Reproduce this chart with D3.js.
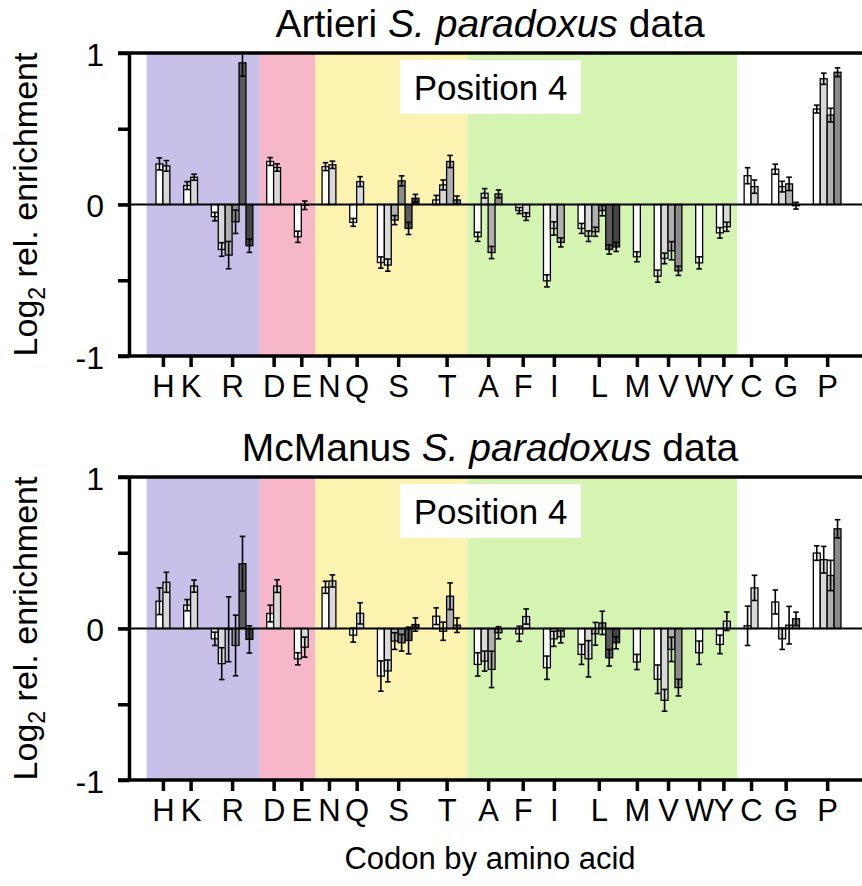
<!DOCTYPE html>
<html>
<head>
<meta charset="utf-8">
<script src="https://cdn.jsdelivr.net/npm/d3@7"></script>
<style>
  body { margin: 0; background: #fff; }
  svg { display: block; font-family: "Liberation Sans", Arial, Helvetica, sans-serif; }
</style>
</head>
<body>
<svg id="chart" width="862" height="886"></svg>
<script>
// Amino acids along the x axis, one group of codon bars each
const aminoAcids = ['H','K','R','D','E','N','Q','S','T','A','F','I','L','M','V','W','Y','C','G','P'];

// Physico-chemical classes shaded behind the bars (first and last amino acid of each block)
const propertyBlocks = [['H','R'], ['D','E'], ['N','T'], ['A','Y']];

// Log2 relative enrichment per codon, Artieri S. paradoxus data
const artieriValues = [
  [0.268, 0.255], [0.125, 0.18], [-0.08, -0.297, -0.334, -0.114, 0.935, -0.272],
  [0.284, 0.244], [-0.213, -0.005], [0.25, 0.262], [-0.118, 0.151],
  [-0.383, -0.40, -0.103, 0.156, -0.158, 0.041], [0.03, 0.129, 0.284, 0.03],
  [-0.213, 0.074, -0.317, 0.07], [-0.04, -0.08], [-0.504, -0.158, -0.25],
  [-0.158, -0.209, -0.18, -0.04, -0.297, -0.28], [-0.345], [-0.473, -0.356, -0.305, -0.438],
  [-0.385], [-0.187, -0.147], [0.19, 0.118], [0.233, 0.118, 0.136, -0.008],
  [0.63, 0.83, 0.59, 0.873]
];
const artieriErrors = [
  [0.04, 0.035], [0.026, 0.02], [0.028, 0.045, 0.09, 0.077, 0.088, 0.044],
  [0.026, 0.024], [0.037, 0.028], [0.026, 0.024], [0.026, 0.033],
  [0.037, 0.04, 0.03, 0.033, 0.04, 0.026], [0.03, 0.033, 0.04, 0.026],
  [0.03, 0.031, 0.04, 0.026], [0.02, 0.025], [0.04, 0.044, 0.03],
  [0.033, 0.035, 0.03, 0.035, 0.03, 0.03], [0.033], [0.04, 0.035, 0.06, 0.03],
  [0.04], [0.035, 0.03], [0.053, 0.044], [0.033, 0.035, 0.044, 0.022],
  [0.026, 0.037, 0.045, 0.029]
];

// Log2 relative enrichment per codon, McManus S. paradoxus data
const mcmanusValues = [
  [0.18, 0.305], [0.154, 0.28], [-0.068, -0.232, -0.005, -0.112, 0.428, -0.072],
  [0.099, 0.28], [-0.2, -0.123], [0.272, 0.314], [-0.044, 0.1],
  [-0.314, -0.28, -0.083, -0.094, -0.079, 0.026], [0.081, -0.018, 0.213, 0.022],
  [-0.237, -0.215, -0.27, -0.028], [-0.035, 0.079], [-0.259, -0.068, -0.055],
  [-0.171, -0.2, -0.035, 0.037, -0.193, -0.094], [-0.221], [-0.335, -0.474, -0.138, -0.39],
  [-0.16], [-0.105, 0.048], [0.018, 0.268], [0.175, -0.068, 0.022, 0.064],
  [0.498, 0.454, 0.35, 0.658]
];
const mcmanusErrors = [
  [0.088, 0.066], [0.037, 0.04], [0.044, 0.105, 0.214, 0.2, 0.18, 0.09],
  [0.055, 0.042], [0.04, 0.066], [0.04, 0.04], [0.046, 0.07],
  [0.1, 0.072, 0.055, 0.055, 0.088, 0.044], [0.055, 0.06, 0.088, 0.048],
  [0.077, 0.066, 0.12, 0.04], [0.05, 0.05], [0.077, 0.05, 0.04],
  [0.066, 0.12, 0.075, 0.077, 0.055, 0.04], [0.05], [0.094, 0.072, 0.08, 0.055],
  [0.077], [0.061, 0.061], [0.13, 0.083], [0.079, 0.07, 0.124, 0.044],
  [0.048, 0.088, 0.1, 0.06]
];

// Y axis ticks and their labels
const yTicks = [-1, -0.5, 0, 0.5, 1];
const yTickLabels = {'-1': '-1', '0': '0', '1': '1'};

const panelTitles = [
  {before: 'Artieri ', italic: 'S. paradoxus', after: ' data'},
  {before: 'McManus ', italic: 'S. paradoxus', after: ' data'}
];
const insetLabel = 'Position 4';
const xAxisTitle = 'Codon by amino acid';

// ---- layout & style ----
const svg = d3.select('#chart');
const blockColors = ['#c9c0e9', '#f6b8c9', '#fdf3b0', '#d6f4b1'];
const codonShades = ['#ffffff', '#d9d9d9', '#b0b0b0', '#8a8a8a', '#5a5a5a', '#444444'];
const axisLeftX = 129;
const gapSlots = 2;

// slot layout: each codon takes one slot, groups separated by a two-slot gap
const groups = [];
let slot = 0;
aminoAcids.forEach((aa, i) => {
  const n = artieriValues[i].length;
  groups.push({aa, start: slot, n, center: slot + n / 2});
  slot += n + gapSlots;
});
const totalSlots = slot - gapSlots;
const x = d3.scaleLinear().domain([0, totalSlots]).range([156, 841]);
const slotW = x(1) - x(0);
const groupOf = Object.fromEntries(groups.map(g => [g.aa, g]));

const panels = [
  {top: 53, bottom: 356, values: artieriValues, errors: artieriErrors, title: panelTitles[0]},
  {top: 477, bottom: 780, values: mcmanusValues, errors: mcmanusErrors, title: panelTitles[1]}
];

panels.forEach((p, pi) => {
  const y = d3.scaleLinear().domain([-1, 1]).range([p.bottom, p.top]);
  const g = svg.append('g');

  const clipId = 'clip' + pi;
  g.append('clipPath').attr('id', clipId)
    .append('rect').attr('x', axisLeftX).attr('y', p.top).attr('width', 862 - axisLeftX).attr('height', p.bottom - p.top);

  // shaded property blocks
  const blockLeft = (d, i) => x(groupOf[d[0]].start - (i === 0 ? 1.35 : 1));
  g.append('g').selectAll('rect').data(propertyBlocks).join('rect')
    .attr('x', blockLeft)
    .attr('width', (d, i) => x(groupOf[d[1]].start + groupOf[d[1]].n + 1) - blockLeft(d, i))
    .attr('y', p.top).attr('height', p.bottom - p.top)
    .attr('fill', (d, i) => blockColors[i]);

  // inset label box
  const boxX = 400, boxW = 181;
  g.append('rect').attr('x', boxX).attr('y', p.top + 7).attr('width', boxW).attr('height', 54).attr('fill', '#fff');
  g.append('text').attr('x', boxX + boxW / 2).attr('y', p.top + 47)
    .attr('text-anchor', 'middle').attr('font-size', 35).text(insetLabel);

  // codon records
  const bars = [];
  groups.forEach((grp, gi) => {
    p.values[gi].forEach((v, k) => {
      bars.push({slot: grp.start + k, v, e: p.errors[gi][k], k});
    });
  });

  const barLayer = g.append('g').attr('clip-path', `url(#${clipId})`);
  barLayer.selectAll('rect').data(bars).join('rect')
    .attr('x', d => x(d.slot))
    .attr('width', slotW)
    .attr('y', d => y(Math.max(d.v, 0)))
    .attr('height', d => Math.abs(y(d.v) - y(0)))
    .attr('fill', d => codonShades[d.k])
    .attr('stroke', '#000').attr('stroke-width', 1.3);

  // zero line
  g.append('line').attr('x1', 118).attr('x2', 862).attr('y1', y(0)).attr('y2', y(0))
    .attr('stroke', '#000').attr('stroke-width', 2.2);

  // error bars
  const errLayer = g.append('g').attr('clip-path', `url(#${clipId})`)
    .attr('stroke', '#000').attr('stroke-width', 1.6);
  const cx = d => x(d.slot) + slotW / 2;
  errLayer.selectAll('line.v').data(bars).join('line').attr('class', 'v')
    .attr('x1', cx).attr('x2', cx)
    .attr('y1', d => y(d.v + d.e)).attr('y2', d => y(d.v - d.e));
  errLayer.selectAll('line.t').data(bars).join('line').attr('class', 't')
    .attr('x1', d => cx(d) - 2.8).attr('x2', d => cx(d) + 2.8)
    .attr('y1', d => y(d.v + d.e)).attr('y2', d => y(d.v + d.e));
  errLayer.selectAll('line.b').data(bars).join('line').attr('class', 'b')
    .attr('x1', d => cx(d) - 2.8).attr('x2', d => cx(d) + 2.8)
    .attr('y1', d => y(d.v - d.e)).attr('y2', d => y(d.v - d.e));

  // top border and bottom axis line
  g.append('line').attr('x1', 118).attr('x2', 862).attr('y1', p.top).attr('y2', p.top)
    .attr('stroke', '#000').attr('stroke-width', 3.5);
  g.append('line').attr('x1', 118).attr('x2', 862).attr('y1', p.bottom).attr('y2', p.bottom)
    .attr('stroke', '#000').attr('stroke-width', 3.5);

  // y axis
  const yAxis = g.append('g').attr('transform', `translate(${axisLeftX},0)`)
    .call(d3.axisLeft(y).tickValues(yTicks).tickSize(11).tickSizeOuter(0).tickPadding(14)
      .tickFormat(d => yTickLabels[String(d)] || ''));
  yAxis.select('.domain').attr('stroke-width', 3.5);
  yAxis.selectAll('.tick line').attr('stroke-width', 3.5);
  yAxis.selectAll('.tick text').attr('font-size', 32).attr('fill', '#000')
    .attr('font-family', '"Liberation Sans", Arial, sans-serif').attr('dy', '0.38em');

  // x axis ticks at amino acid group centres
  const xAxis = g.append('g').attr('transform', `translate(0,${p.bottom})`)
    .call(d3.axisBottom(x).tickValues(groups.map(d => d.center)).tickSize(11).tickPadding(8)
      .tickFormat((d, i) => aminoAcids[i]));
  xAxis.select('.domain').remove();
  xAxis.selectAll('.tick line').attr('stroke-width', 3.5);
  xAxis.selectAll('.tick text').attr('font-size', 31).attr('fill', '#000')
    .attr('font-family', '"Liberation Sans", Arial, sans-serif');

  // panel title
  const t = g.append('text').attr('x', 490).attr('y', p.top - 16)
    .attr('text-anchor', 'middle').attr('font-size', 39);
  t.append('tspan').text(p.title.before);
  t.append('tspan').attr('font-style', 'italic').text(p.title.italic);
  t.append('tspan').text(p.title.after);

  // y axis title
  const yt = g.append('text')
    .attr('transform', `translate(37,${(p.top + p.bottom) / 2}) rotate(-90)`)
    .attr('text-anchor', 'middle').attr('font-size', 34);
  yt.append('tspan').text('Log');
  yt.append('tspan').attr('font-size', 23).attr('dy', 8).text('2');
  yt.append('tspan').attr('dy', -8).text(' rel. enrichment');
});

svg.append('text').attr('x', 490).attr('y', 869).attr('text-anchor', 'middle')
  .attr('font-size', 31).text(xAxisTitle);
</script>
</body>
</html>
